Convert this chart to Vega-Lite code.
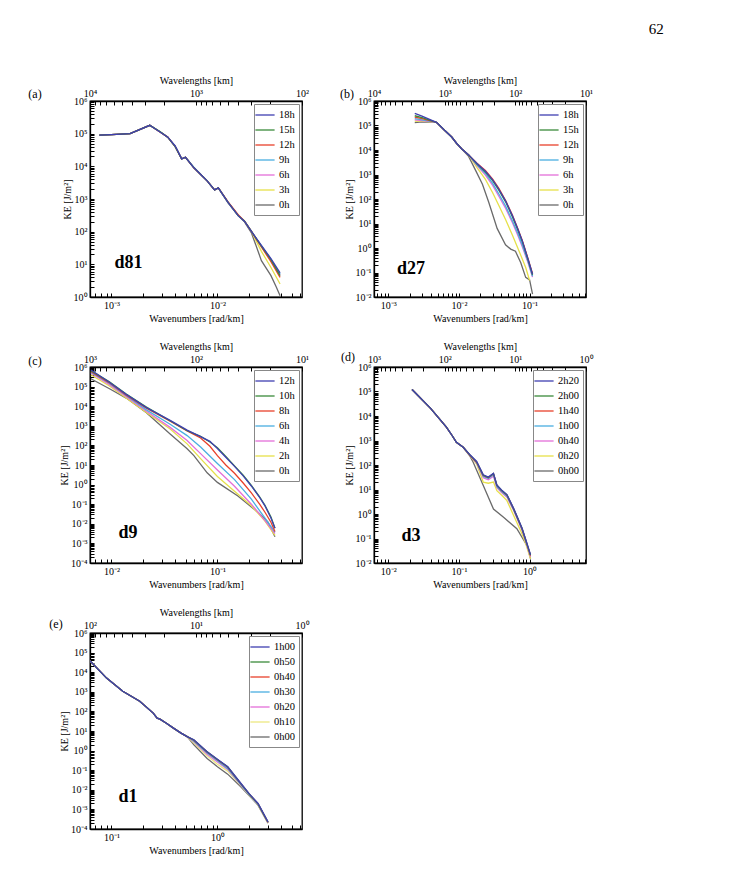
{
"$schema":"https://vega.github.io/schema/vega-lite/v6.json",
"padding":{"left":27,"top":22,"right":5,"bottom":5},
"title":{"text":"62","anchor":"end","font":"Liberation Serif","fontSize":15,"fontWeight":"normal","dx":70,"offset":37},
"config":{
 "font":"Liberation Serif",
 "view":{"stroke":"black","strokeWidth":1.3},
 "axis":{"domainColor":"black","domainWidth":1.3,"tickColor":"black","tickSize":-4,"labelPadding":7,"labelFont":"Liberation Serif","labelFontSize":10,"labelColor":"black","titleFont":"Liberation Serif","titleFontSize":10,"titleFontWeight":"normal","titleColor":"black","grid":false,"labelOverlap":false,"labelFlush":false,"titlePadding":3},
 "axisY":{"titlePadding":1},
 "legend":{"orient":"top-right","offset":3,"strokeColor":"#888","fillColor":"white","padding":4,"labelFont":"Liberation Serif","labelFontSize":10.5,"labelColor":"black","symbolType":"M-1.6,0H1.6","symbolSize":144,"symbolStrokeWidth":1.6,"rowPadding":2,"labelOffset":7},
 "line":{"strokeWidth":1.3}
},
"datasets":{
"one":[{}],
"a":[
{"s":"0h","k":0.00077,"e":90000},{"s":"0h","k":0.001,"e":94000},{"s":"0h","k":0.0015,"e":100000},{"s":"0h","k":0.0023,"e":180000},{"s":"0h","k":0.0029,"e":110000},{"s":"0h","k":0.0034,"e":78000},{"s":"0h","k":0.004,"e":40000},{"s":"0h","k":0.0046,"e":17000},{"s":"0h","k":0.005,"e":19000},{"s":"0h","k":0.006,"e":9000},{"s":"0h","k":0.007,"e":5500},{"s":"0h","k":0.008,"e":3600},{"s":"0h","k":0.0094,"e":1900},{"s":"0h","k":0.0102,"e":2200},{"s":"0h","k":0.0126,"e":760},{"s":"0h","k":0.0157,"e":310},{"s":"0h","k":0.018,"e":200},{"s":"0h","k":0.021,"e":90},{"s":"0h","k":0.026,"e":13},{"s":"0h","k":0.032,"e":4.5},{"s":"0h","k":0.036,"e":2},{"s":"0h","k":0.039,"e":1.1},
{"s":"3h","k":0.00077,"e":90000},{"s":"3h","k":0.001,"e":94000},{"s":"3h","k":0.0015,"e":100000},{"s":"3h","k":0.0023,"e":180000},{"s":"3h","k":0.0029,"e":110000},{"s":"3h","k":0.0034,"e":78000},{"s":"3h","k":0.004,"e":40000},{"s":"3h","k":0.0046,"e":17000},{"s":"3h","k":0.005,"e":19000},{"s":"3h","k":0.006,"e":9000},{"s":"3h","k":0.007,"e":5500},{"s":"3h","k":0.008,"e":3600},{"s":"3h","k":0.0094,"e":1900},{"s":"3h","k":0.0102,"e":2200},{"s":"3h","k":0.0126,"e":800},{"s":"3h","k":0.0157,"e":310},{"s":"3h","k":0.018,"e":215},{"s":"3h","k":0.021,"e":100},{"s":"3h","k":0.026,"e":25},{"s":"3h","k":0.032,"e":8},{"s":"3h","k":0.039,"e":2.5},
{"s":"6h","k":0.00077,"e":90000},{"s":"6h","k":0.001,"e":94000},{"s":"6h","k":0.0015,"e":100000},{"s":"6h","k":0.0023,"e":180000},{"s":"6h","k":0.0029,"e":110000},{"s":"6h","k":0.0034,"e":80000},{"s":"6h","k":0.004,"e":40000},{"s":"6h","k":0.0046,"e":17000},{"s":"6h","k":0.005,"e":19000},{"s":"6h","k":0.006,"e":9000},{"s":"6h","k":0.007,"e":5500},{"s":"6h","k":0.008,"e":3600},{"s":"6h","k":0.0094,"e":1900},{"s":"6h","k":0.0102,"e":2200},{"s":"6h","k":0.0126,"e":790},{"s":"6h","k":0.0157,"e":310},{"s":"6h","k":0.018,"e":210},{"s":"6h","k":0.021,"e":100},{"s":"6h","k":0.026,"e":35},{"s":"6h","k":0.032,"e":13},{"s":"6h","k":0.039,"e":4.6},
{"s":"9h","k":0.00077,"e":90000},{"s":"9h","k":0.001,"e":94000},{"s":"9h","k":0.0015,"e":100000},{"s":"9h","k":0.0023,"e":180000},{"s":"9h","k":0.0029,"e":110000},{"s":"9h","k":0.0034,"e":78000},{"s":"9h","k":0.004,"e":40000},{"s":"9h","k":0.0046,"e":17000},{"s":"9h","k":0.005,"e":19000},{"s":"9h","k":0.006,"e":9400},{"s":"9h","k":0.007,"e":5500},{"s":"9h","k":0.008,"e":3600},{"s":"9h","k":0.0094,"e":1900},{"s":"9h","k":0.0102,"e":2200},{"s":"9h","k":0.0126,"e":790},{"s":"9h","k":0.0157,"e":310},{"s":"9h","k":0.018,"e":210},{"s":"9h","k":0.021,"e":100},{"s":"9h","k":0.026,"e":37},{"s":"9h","k":0.032,"e":14},{"s":"9h","k":0.039,"e":5},
{"s":"12h","k":0.00077,"e":90000},{"s":"12h","k":0.001,"e":94000},{"s":"12h","k":0.0015,"e":100000},{"s":"12h","k":0.0023,"e":180000},{"s":"12h","k":0.0029,"e":110000},{"s":"12h","k":0.0034,"e":78000},{"s":"12h","k":0.004,"e":40000},{"s":"12h","k":0.0046,"e":17000},{"s":"12h","k":0.005,"e":19000},{"s":"12h","k":0.006,"e":9000},{"s":"12h","k":0.007,"e":5500},{"s":"12h","k":0.008,"e":3600},{"s":"12h","k":0.0094,"e":1900},{"s":"12h","k":0.0102,"e":2200},{"s":"12h","k":0.0126,"e":820},{"s":"12h","k":0.0157,"e":330},{"s":"12h","k":0.018,"e":210},{"s":"12h","k":0.021,"e":100},{"s":"12h","k":0.026,"e":34},{"s":"12h","k":0.032,"e":12},{"s":"12h","k":0.039,"e":4},
{"s":"15h","k":0.00077,"e":90000},{"s":"15h","k":0.001,"e":94000},{"s":"15h","k":0.0015,"e":100000},{"s":"15h","k":0.0023,"e":180000},{"s":"15h","k":0.0029,"e":115000},{"s":"15h","k":0.0034,"e":78000},{"s":"15h","k":0.004,"e":40000},{"s":"15h","k":0.0046,"e":17000},{"s":"15h","k":0.005,"e":19000},{"s":"15h","k":0.006,"e":9000},{"s":"15h","k":0.007,"e":5500},{"s":"15h","k":0.008,"e":3600},{"s":"15h","k":0.0094,"e":1900},{"s":"15h","k":0.0102,"e":2200},{"s":"15h","k":0.0126,"e":790},{"s":"15h","k":0.0157,"e":310},{"s":"15h","k":0.018,"e":210},{"s":"15h","k":0.021,"e":100},{"s":"15h","k":0.026,"e":36},{"s":"15h","k":0.032,"e":14},{"s":"15h","k":0.039,"e":4.5},
{"s":"18h","k":0.00077,"e":90000},{"s":"18h","k":0.001,"e":94000},{"s":"18h","k":0.0015,"e":100000},{"s":"18h","k":0.0023,"e":180000},{"s":"18h","k":0.0029,"e":110000},{"s":"18h","k":0.0034,"e":78000},{"s":"18h","k":0.004,"e":42000},{"s":"18h","k":0.0046,"e":17000},{"s":"18h","k":0.005,"e":19000},{"s":"18h","k":0.006,"e":9000},{"s":"18h","k":0.007,"e":5500},{"s":"18h","k":0.008,"e":3600},{"s":"18h","k":0.0094,"e":1900},{"s":"18h","k":0.0102,"e":2200},{"s":"18h","k":0.0126,"e":790},{"s":"18h","k":0.0157,"e":310},{"s":"18h","k":0.018,"e":210},{"s":"18h","k":0.021,"e":100},{"s":"18h","k":0.026,"e":38},{"s":"18h","k":0.032,"e":15},{"s":"18h","k":0.039,"e":5.5}
],
"b":[
{"s":"0h","k":0.00237,"e":130000},{"s":"0h","k":0.003,"e":140000},{"s":"0h","k":0.0048,"e":135000},{"s":"0h","k":0.0062,"e":65000},{"s":"0h","k":0.0079,"e":34000},{"s":"0h","k":0.0093,"e":18500},{"s":"0h","k":0.011,"e":11000},{"s":"0h","k":0.0137,"e":5500},{"s":"0h","k":0.017,"e":1580},{"s":"0h","k":0.0215,"e":400},{"s":"0h","k":0.0264,"e":74},{"s":"0h","k":0.0347,"e":6.3},{"s":"0h","k":0.0456,"e":1.35},{"s":"0h","k":0.054,"e":0.9},{"s":"0h","k":0.063,"e":0.74},{"s":"0h","k":0.075,"e":0.25},{"s":"0h","k":0.088,"e":0.063},{"s":"0h","k":0.1,"e":0.05},{"s":"0h","k":0.11,"e":0.013},
{"s":"3h","k":0.00237,"e":150000},{"s":"3h","k":0.003,"e":150000},{"s":"3h","k":0.0048,"e":135000},{"s":"3h","k":0.0062,"e":65000},{"s":"3h","k":0.0079,"e":34000},{"s":"3h","k":0.0093,"e":18500},{"s":"3h","k":0.011,"e":11000},{"s":"3h","k":0.0137,"e":6300},{"s":"3h","k":0.018,"e":1900},{"s":"3h","k":0.0237,"e":630},{"s":"3h","k":0.03,"e":180},{"s":"3h","k":0.0367,"e":54},{"s":"3h","k":0.046,"e":14},{"s":"3h","k":0.057,"e":3.4},{"s":"3h","k":0.068,"e":1},{"s":"3h","k":0.079,"e":0.35},{"s":"3h","k":0.088,"e":0.16},{"s":"3h","k":0.1,"e":0.047},
{"s":"6h","k":0.00237,"e":170000},{"s":"6h","k":0.003,"e":160000},{"s":"6h","k":0.0048,"e":135000},{"s":"6h","k":0.0062,"e":65000},{"s":"6h","k":0.0079,"e":34000},{"s":"6h","k":0.0093,"e":18500},{"s":"6h","k":0.011,"e":11000},{"s":"6h","k":0.0137,"e":6300},{"s":"6h","k":0.018,"e":2300},{"s":"6h","k":0.0237,"e":950},{"s":"6h","k":0.03,"e":360},{"s":"6h","k":0.0367,"e":130},{"s":"6h","k":0.046,"e":40},{"s":"6h","k":0.057,"e":11},{"s":"6h","k":0.068,"e":3.3},{"s":"6h","k":0.079,"e":1.1},{"s":"6h","k":0.095,"e":0.25},{"s":"6h","k":0.11,"e":0.065},
{"s":"9h","k":0.00237,"e":190000},{"s":"9h","k":0.003,"e":170000},{"s":"9h","k":0.0048,"e":135000},{"s":"9h","k":0.0062,"e":65000},{"s":"9h","k":0.0079,"e":34000},{"s":"9h","k":0.0093,"e":18500},{"s":"9h","k":0.011,"e":11000},{"s":"9h","k":0.0137,"e":6300},{"s":"9h","k":0.018,"e":2500},{"s":"9h","k":0.0237,"e":1100},{"s":"9h","k":0.03,"e":430},{"s":"9h","k":0.0367,"e":160},{"s":"9h","k":0.046,"e":50},{"s":"9h","k":0.057,"e":13},{"s":"9h","k":0.068,"e":4},{"s":"9h","k":0.079,"e":1.3},{"s":"9h","k":0.095,"e":0.28},{"s":"9h","k":0.11,"e":0.07},
{"s":"12h","k":0.00237,"e":220000},{"s":"12h","k":0.003,"e":190000},{"s":"12h","k":0.0048,"e":135000},{"s":"12h","k":0.0062,"e":65000},{"s":"12h","k":0.0079,"e":34000},{"s":"12h","k":0.0093,"e":18500},{"s":"12h","k":0.011,"e":11000},{"s":"12h","k":0.0137,"e":6300},{"s":"12h","k":0.018,"e":2900},{"s":"12h","k":0.0237,"e":1450},{"s":"12h","k":0.03,"e":650},{"s":"12h","k":0.0367,"e":270},{"s":"12h","k":0.046,"e":85},{"s":"12h","k":0.057,"e":22},{"s":"12h","k":0.068,"e":6.3},{"s":"12h","k":0.079,"e":2},{"s":"12h","k":0.095,"e":0.37},{"s":"12h","k":0.11,"e":0.09},
{"s":"15h","k":0.00237,"e":250000},{"s":"15h","k":0.003,"e":210000},{"s":"15h","k":0.0048,"e":135000},{"s":"15h","k":0.0062,"e":65000},{"s":"15h","k":0.0079,"e":34000},{"s":"15h","k":0.0093,"e":18500},{"s":"15h","k":0.011,"e":11000},{"s":"15h","k":0.0137,"e":6300},{"s":"15h","k":0.018,"e":2700},{"s":"15h","k":0.0237,"e":1250},{"s":"15h","k":0.03,"e":560},{"s":"15h","k":0.0367,"e":230},{"s":"15h","k":0.046,"e":75},{"s":"15h","k":0.057,"e":19},{"s":"15h","k":0.068,"e":5.5},{"s":"15h","k":0.079,"e":1.8},{"s":"15h","k":0.095,"e":0.33},{"s":"15h","k":0.11,"e":0.08},
{"s":"18h","k":0.00237,"e":310000},{"s":"18h","k":0.003,"e":240000},{"s":"18h","k":0.0048,"e":135000},{"s":"18h","k":0.0062,"e":65000},{"s":"18h","k":0.0079,"e":34000},{"s":"18h","k":0.0093,"e":18500},{"s":"18h","k":0.011,"e":11000},{"s":"18h","k":0.0137,"e":6300},{"s":"18h","k":0.018,"e":2800},{"s":"18h","k":0.0237,"e":1350},{"s":"18h","k":0.03,"e":600},{"s":"18h","k":0.0367,"e":250},{"s":"18h","k":0.046,"e":80},{"s":"18h","k":0.057,"e":21},{"s":"18h","k":0.068,"e":6},{"s":"18h","k":0.079,"e":1.9},{"s":"18h","k":0.095,"e":0.35},{"s":"18h","k":0.11,"e":0.085}
],
"c":[
{"s":"0h","k":0.0064,"e":250000},{"s":"0h","k":0.0095,"e":80000},{"s":"0h","k":0.0138,"e":26000},{"s":"0h","k":0.0214,"e":4600},{"s":"0h","k":0.0358,"e":380},{"s":"0h","k":0.0518,"e":68},{"s":"0h","k":0.06,"e":30},{"s":"0h","k":0.08,"e":4},{"s":"0h","k":0.1,"e":1.3},{"s":"0h","k":0.156,"e":0.26},{"s":"0h","k":0.242,"e":0.038},{"s":"0h","k":0.3,"e":0.012},{"s":"0h","k":0.349,"e":0.0022},
{"s":"2h","k":0.0064,"e":400000},{"s":"2h","k":0.0095,"e":110000},{"s":"2h","k":0.0138,"e":26000},{"s":"2h","k":0.0214,"e":4800},{"s":"2h","k":0.0358,"e":680},{"s":"2h","k":0.0518,"e":120},{"s":"2h","k":0.0694,"e":21},{"s":"2h","k":0.1,"e":2.6},{"s":"2h","k":0.145,"e":0.46},{"s":"2h","k":0.209,"e":0.083},{"s":"2h","k":0.28,"e":0.014},{"s":"2h","k":0.349,"e":0.0026},
{"s":"4h","k":0.0064,"e":500000},{"s":"4h","k":0.0095,"e":130000},{"s":"4h","k":0.0138,"e":30000},{"s":"4h","k":0.0214,"e":5500},{"s":"4h","k":0.0358,"e":830},{"s":"4h","k":0.0518,"e":178},{"s":"4h","k":0.0694,"e":38},{"s":"4h","k":0.1,"e":5.6},{"s":"4h","k":0.145,"e":0.83},{"s":"4h","k":0.209,"e":0.1},{"s":"4h","k":0.28,"e":0.015},{"s":"4h","k":0.349,"e":0.0032},
{"s":"6h","k":0.0064,"e":550000},{"s":"6h","k":0.0095,"e":150000},{"s":"6h","k":0.0138,"e":34000},{"s":"6h","k":0.0214,"e":6500},{"s":"6h","k":0.0358,"e":1200},{"s":"6h","k":0.0518,"e":316},{"s":"6h","k":0.0694,"e":83},{"s":"6h","k":0.1,"e":12},{"s":"6h","k":0.145,"e":1.8},{"s":"6h","k":0.209,"e":0.18},{"s":"6h","k":0.28,"e":0.02},{"s":"6h","k":0.349,"e":0.0038},
{"s":"8h","k":0.0064,"e":600000},{"s":"8h","k":0.0095,"e":160000},{"s":"8h","k":0.0138,"e":36000},{"s":"8h","k":0.0214,"e":8000},{"s":"8h","k":0.0358,"e":1700},{"s":"8h","k":0.0518,"e":550},{"s":"8h","k":0.0694,"e":240},{"s":"8h","k":0.085,"e":90},{"s":"8h","k":0.1,"e":30},{"s":"8h","k":0.12,"e":10},{"s":"8h","k":0.145,"e":3.8},{"s":"8h","k":0.175,"e":1.2},{"s":"8h","k":0.209,"e":0.38},{"s":"8h","k":0.25,"e":0.1},{"s":"8h","k":0.28,"e":0.04},{"s":"8h","k":0.32,"e":0.012},{"s":"8h","k":0.349,"e":0.004},
{"s":"10h","k":0.0064,"e":650000},{"s":"10h","k":0.0095,"e":180000},{"s":"10h","k":0.0138,"e":42000},{"s":"10h","k":0.0214,"e":9000},{"s":"10h","k":0.0358,"e":1800},{"s":"10h","k":0.0518,"e":560},{"s":"10h","k":0.0694,"e":290},{"s":"10h","k":0.085,"e":150},{"s":"10h","k":0.1,"e":75},{"s":"10h","k":0.12,"e":27},{"s":"10h","k":0.145,"e":9},{"s":"10h","k":0.175,"e":3},{"s":"10h","k":0.209,"e":0.9},{"s":"10h","k":0.25,"e":0.24},{"s":"10h","k":0.28,"e":0.09},{"s":"10h","k":0.32,"e":0.022},{"s":"10h","k":0.349,"e":0.006},
{"s":"12h","k":0.0064,"e":700000},{"s":"12h","k":0.0095,"e":170000},{"s":"12h","k":0.0138,"e":40000},{"s":"12h","k":0.0214,"e":8500},{"s":"12h","k":0.0358,"e":1900},{"s":"12h","k":0.0518,"e":600},{"s":"12h","k":0.0694,"e":280},{"s":"12h","k":0.085,"e":160},{"s":"12h","k":0.1,"e":70},{"s":"12h","k":0.12,"e":25},{"s":"12h","k":0.145,"e":8.5},{"s":"12h","k":0.175,"e":2.8},{"s":"12h","k":0.209,"e":0.85},{"s":"12h","k":0.25,"e":0.22},{"s":"12h","k":0.28,"e":0.085},{"s":"12h","k":0.32,"e":0.02},{"s":"12h","k":0.349,"e":0.006}
],
"d":[
{"s":"0h00","k":0.0217,"e":120000},{"s":"0h00","k":0.04,"e":20000},{"s":"0h00","k":0.0664,"e":3500},{"s":"0h00","k":0.08,"e":1600},{"s":"0h00","k":0.092,"e":850},{"s":"0h00","k":0.115,"e":530},{"s":"0h00","k":0.143,"e":230},{"s":"0h00","k":0.159,"e":130},{"s":"0h00","k":0.221,"e":14.5},{"s":"0h00","k":0.308,"e":1.6},{"s":"0h00","k":0.428,"e":0.74},{"s":"0h00","k":0.66,"e":0.25},{"s":"0h00","k":0.92,"e":0.051},{"s":"0h00","k":1.03,"e":0.015},
{"s":"0h20","k":0.0217,"e":120000},{"s":"0h20","k":0.04,"e":20000},{"s":"0h20","k":0.0664,"e":3500},{"s":"0h20","k":0.08,"e":1600},{"s":"0h20","k":0.092,"e":850},{"s":"0h20","k":0.115,"e":530},{"s":"0h20","k":0.143,"e":245},{"s":"0h20","k":0.178,"e":110},{"s":"0h20","k":0.221,"e":20},{"s":"0h20","k":0.26,"e":18},{"s":"0h20","k":0.308,"e":20},{"s":"0h20","k":0.344,"e":9},{"s":"0h20","k":0.4,"e":6},{"s":"0h20","k":0.478,"e":3.5},{"s":"0h20","k":0.594,"e":0.87},{"s":"0h20","k":0.78,"e":0.155},{"s":"0h20","k":0.9,"e":0.05},{"s":"0h20","k":1.03,"e":0.015},
{"s":"0h40","k":0.0217,"e":120000},{"s":"0h40","k":0.04,"e":20000},{"s":"0h40","k":0.0664,"e":3500},{"s":"0h40","k":0.08,"e":1600},{"s":"0h40","k":0.092,"e":850},{"s":"0h40","k":0.115,"e":530},{"s":"0h40","k":0.143,"e":245},{"s":"0h40","k":0.178,"e":120},{"s":"0h40","k":0.221,"e":30},{"s":"0h40","k":0.26,"e":25},{"s":"0h40","k":0.308,"e":35},{"s":"0h40","k":0.344,"e":12},{"s":"0h40","k":0.4,"e":7.5},{"s":"0h40","k":0.478,"e":4.8},{"s":"0h40","k":0.594,"e":1.4},{"s":"0h40","k":0.78,"e":0.22},{"s":"0h40","k":0.9,"e":0.06},{"s":"0h40","k":1.03,"e":0.018},
{"s":"1h00","k":0.0217,"e":120000},{"s":"1h00","k":0.04,"e":20000},{"s":"1h00","k":0.0664,"e":3500},{"s":"1h00","k":0.08,"e":1600},{"s":"1h00","k":0.092,"e":850},{"s":"1h00","k":0.115,"e":530},{"s":"1h00","k":0.143,"e":250},{"s":"1h00","k":0.178,"e":125},{"s":"1h00","k":0.221,"e":34},{"s":"1h00","k":0.26,"e":28},{"s":"1h00","k":0.308,"e":40},{"s":"1h00","k":0.344,"e":13},{"s":"1h00","k":0.4,"e":8.3},{"s":"1h00","k":0.478,"e":5.3},{"s":"1h00","k":0.594,"e":1.5},{"s":"1h00","k":0.78,"e":0.24},{"s":"1h00","k":0.9,"e":0.065},{"s":"1h00","k":1.03,"e":0.02},
{"s":"1h40","k":0.0217,"e":120000},{"s":"1h40","k":0.04,"e":20000},{"s":"1h40","k":0.0664,"e":3500},{"s":"1h40","k":0.08,"e":1600},{"s":"1h40","k":0.092,"e":850},{"s":"1h40","k":0.115,"e":530},{"s":"1h40","k":0.143,"e":250},{"s":"1h40","k":0.178,"e":130},{"s":"1h40","k":0.221,"e":37},{"s":"1h40","k":0.26,"e":30},{"s":"1h40","k":0.308,"e":44},{"s":"1h40","k":0.344,"e":14.5},{"s":"1h40","k":0.4,"e":9},{"s":"1h40","k":0.478,"e":5.8},{"s":"1h40","k":0.594,"e":1.6},{"s":"1h40","k":0.78,"e":0.25},{"s":"1h40","k":0.9,"e":0.07},{"s":"1h40","k":1.03,"e":0.02},
{"s":"2h00","k":0.0217,"e":120000},{"s":"2h00","k":0.04,"e":20000},{"s":"2h00","k":0.0664,"e":3500},{"s":"2h00","k":0.08,"e":1600},{"s":"2h00","k":0.092,"e":850},{"s":"2h00","k":0.115,"e":530},{"s":"2h00","k":0.143,"e":255},{"s":"2h00","k":0.178,"e":135},{"s":"2h00","k":0.221,"e":38},{"s":"2h00","k":0.26,"e":31},{"s":"2h00","k":0.308,"e":45},{"s":"2h00","k":0.344,"e":15},{"s":"2h00","k":0.4,"e":9.3},{"s":"2h00","k":0.478,"e":6},{"s":"2h00","k":0.594,"e":1.65},{"s":"2h00","k":0.78,"e":0.26},{"s":"2h00","k":0.9,"e":0.07},{"s":"2h00","k":1.03,"e":0.021},
{"s":"2h20","k":0.0217,"e":120000},{"s":"2h20","k":0.04,"e":20000},{"s":"2h20","k":0.0664,"e":3500},{"s":"2h20","k":0.08,"e":1600},{"s":"2h20","k":0.092,"e":850},{"s":"2h20","k":0.115,"e":530},{"s":"2h20","k":0.143,"e":260},{"s":"2h20","k":0.178,"e":140},{"s":"2h20","k":0.221,"e":40},{"s":"2h20","k":0.26,"e":32},{"s":"2h20","k":0.308,"e":46},{"s":"2h20","k":0.344,"e":15.5},{"s":"2h20","k":0.4,"e":9.6},{"s":"2h20","k":0.478,"e":6.2},{"s":"2h20","k":0.594,"e":1.7},{"s":"2h20","k":0.78,"e":0.27},{"s":"2h20","k":0.9,"e":0.075},{"s":"2h20","k":1.03,"e":0.022}
],
"e":[
{"s":"0h00","k":0.063,"e":38000},{"s":"0h00","k":0.09,"e":5000},{"s":"0h00","k":0.128,"e":1070},{"s":"0h00","k":0.185,"e":330},{"s":"0h00","k":0.248,"e":82},{"s":"0h00","k":0.27,"e":45},{"s":"0h00","k":0.287,"e":40},{"s":"0h00","k":0.33,"e":25},{"s":"0h00","k":0.385,"e":14},{"s":"0h00","k":0.45,"e":8},{"s":"0h00","k":0.518,"e":5.2},{"s":"0h00","k":0.6,"e":2},{"s":"0h00","k":0.8,"e":0.4},{"s":"0h00","k":1,"e":0.15},{"s":"0h00","k":1.25,"e":0.063},{"s":"0h00","k":1.67,"e":0.014},{"s":"0h00","k":2,"e":0.005},{"s":"0h00","k":2.42,"e":0.0016},{"s":"0h00","k":3,"e":0.0002},
{"s":"0h10","k":0.063,"e":38000},{"s":"0h10","k":0.09,"e":5000},{"s":"0h10","k":0.128,"e":1070},{"s":"0h10","k":0.185,"e":330},{"s":"0h10","k":0.248,"e":82},{"s":"0h10","k":0.27,"e":45},{"s":"0h10","k":0.287,"e":40},{"s":"0h10","k":0.33,"e":25},{"s":"0h10","k":0.385,"e":14},{"s":"0h10","k":0.45,"e":8},{"s":"0h10","k":0.518,"e":5.2},{"s":"0h10","k":0.6,"e":2.4},{"s":"0h10","k":0.8,"e":0.55},{"s":"0h10","k":1,"e":0.2},{"s":"0h10","k":1.25,"e":0.09},{"s":"0h10","k":1.67,"e":0.016},{"s":"0h10","k":2,"e":0.0052},{"s":"0h10","k":2.42,"e":0.0017},{"s":"0h10","k":3,"e":0.0002},
{"s":"0h20","k":0.063,"e":38000},{"s":"0h20","k":0.09,"e":5000},{"s":"0h20","k":0.128,"e":1070},{"s":"0h20","k":0.185,"e":330},{"s":"0h20","k":0.248,"e":82},{"s":"0h20","k":0.27,"e":45},{"s":"0h20","k":0.287,"e":40},{"s":"0h20","k":0.33,"e":25},{"s":"0h20","k":0.385,"e":14},{"s":"0h20","k":0.45,"e":8},{"s":"0h20","k":0.518,"e":5.2},{"s":"0h20","k":0.6,"e":2.8},{"s":"0h20","k":0.8,"e":0.65},{"s":"0h20","k":1,"e":0.26},{"s":"0h20","k":1.25,"e":0.11},{"s":"0h20","k":1.67,"e":0.017},{"s":"0h20","k":2,"e":0.0055},{"s":"0h20","k":2.42,"e":0.0018},{"s":"0h20","k":3,"e":0.00021},
{"s":"0h30","k":0.063,"e":38000},{"s":"0h30","k":0.09,"e":5000},{"s":"0h30","k":0.128,"e":1070},{"s":"0h30","k":0.185,"e":330},{"s":"0h30","k":0.248,"e":82},{"s":"0h30","k":0.27,"e":45},{"s":"0h30","k":0.287,"e":40},{"s":"0h30","k":0.33,"e":25},{"s":"0h30","k":0.385,"e":14},{"s":"0h30","k":0.45,"e":8},{"s":"0h30","k":0.518,"e":5.2},{"s":"0h30","k":0.6,"e":3},{"s":"0h30","k":0.8,"e":0.75},{"s":"0h30","k":1,"e":0.3},{"s":"0h30","k":1.25,"e":0.12},{"s":"0h30","k":1.67,"e":0.018},{"s":"0h30","k":2,"e":0.0056},{"s":"0h30","k":2.42,"e":0.0018},{"s":"0h30","k":3,"e":0.00022},
{"s":"0h40","k":0.063,"e":38000},{"s":"0h40","k":0.09,"e":5000},{"s":"0h40","k":0.128,"e":1070},{"s":"0h40","k":0.185,"e":330},{"s":"0h40","k":0.248,"e":82},{"s":"0h40","k":0.27,"e":45},{"s":"0h40","k":0.287,"e":40},{"s":"0h40","k":0.33,"e":25},{"s":"0h40","k":0.385,"e":14},{"s":"0h40","k":0.45,"e":8},{"s":"0h40","k":0.518,"e":5.2},{"s":"0h40","k":0.6,"e":3.4},{"s":"0h40","k":0.8,"e":0.85},{"s":"0h40","k":1,"e":0.34},{"s":"0h40","k":1.25,"e":0.14},{"s":"0h40","k":1.67,"e":0.02},{"s":"0h40","k":2,"e":0.006},{"s":"0h40","k":2.42,"e":0.0019},{"s":"0h40","k":3,"e":0.00022},
{"s":"0h50","k":0.063,"e":38000},{"s":"0h50","k":0.09,"e":5000},{"s":"0h50","k":0.128,"e":1070},{"s":"0h50","k":0.185,"e":330},{"s":"0h50","k":0.248,"e":82},{"s":"0h50","k":0.27,"e":45},{"s":"0h50","k":0.287,"e":40},{"s":"0h50","k":0.33,"e":25},{"s":"0h50","k":0.385,"e":14},{"s":"0h50","k":0.45,"e":8},{"s":"0h50","k":0.518,"e":5.2},{"s":"0h50","k":0.6,"e":3.5},{"s":"0h50","k":0.8,"e":0.86},{"s":"0h50","k":1,"e":0.35},{"s":"0h50","k":1.25,"e":0.15},{"s":"0h50","k":1.67,"e":0.02},{"s":"0h50","k":2,"e":0.006},{"s":"0h50","k":2.42,"e":0.0019},{"s":"0h50","k":3,"e":0.00022},
{"s":"1h00","k":0.063,"e":38000},{"s":"1h00","k":0.09,"e":5000},{"s":"1h00","k":0.128,"e":1070},{"s":"1h00","k":0.185,"e":330},{"s":"1h00","k":0.248,"e":82},{"s":"1h00","k":0.27,"e":45},{"s":"1h00","k":0.287,"e":40},{"s":"1h00","k":0.33,"e":25},{"s":"1h00","k":0.385,"e":14},{"s":"1h00","k":0.45,"e":8},{"s":"1h00","k":0.518,"e":5.2},{"s":"1h00","k":0.6,"e":3.6},{"s":"1h00","k":0.8,"e":0.87},{"s":"1h00","k":1,"e":0.36},{"s":"1h00","k":1.25,"e":0.15},{"s":"1h00","k":1.67,"e":0.021},{"s":"1h00","k":2,"e":0.0062},{"s":"1h00","k":2.42,"e":0.002},{"s":"1h00","k":3,"e":0.00023}
]
},
"columns":2,
"spacing":{"row":70,"column":72},
"bounds":"flush",
"resolve":{"scale":{"color":"independent"},"legend":{"color":"independent"}},
"concat":[
 {"width":212,"height":196,
  "layer":[
   {"layer":[
     {"data":{"name":"a"},"mark":{"type":"line","clip":true},
      "encoding":{
       "x":{"field":"k","type":"quantitative","scale":{"type":"log","domain":[0.000628,0.0628],"nice":false},"axis":{"orient":"bottom","title":"Wavenumbers [rad/km]","values":[0.0007,0.0008,0.0009,0.001,0.002,0.003,0.004,0.005,0.006,0.007,0.008,0.009,0.01,0.02,0.03,0.04,0.05,0.06],"labelExpr":"abs(log(datum.value)/LN10-round(log(datum.value)/LN10))<0.001 ? '10'+replace(replace(replace(replace(replace(replace(replace(replace(replace(replace(replace(''+round(log(datum.value)/LN10),'-','⁻'),'0','⁰'),'1','¹'),'2','²'),'3','³'),'4','⁴'),'5','⁵'),'6','⁶'),'7','⁷'),'8','⁸'),'9','⁹') : ''"}},
       "y":{"field":"e","type":"quantitative","scale":{"type":"log","domain":[1,1000000],"nice":false},"axis":{"title":"KE [J/m²]","values":[1,2,3,4,5,6,7,8,9,10,20,30,40,50,60,70,80,90,100,200,300,400,500,600,700,800,900,1000,2000,3000,4000,5000,6000,7000,8000,9000,10000,20000,30000,40000,50000,60000,70000,80000,90000,100000,200000,300000,400000,500000,600000,700000,800000,900000,1000000],"labelExpr":"abs(log(datum.value)/LN10-round(log(datum.value)/LN10))<0.001 ? '10'+replace(replace(replace(replace(replace(replace(replace(replace(replace(replace(replace(''+round(log(datum.value)/LN10),'-','⁻'),'0','⁰'),'1','¹'),'2','²'),'3','³'),'4','⁴'),'5','⁵'),'6','⁶'),'7','⁷'),'8','⁸'),'9','⁹') : ''"}},
       "color":{"field":"s","type":"nominal","scale":{"domain":["18h","15h","12h","9h","6h","3h","0h"],"range":["#3f3fb0","#3a8a3a","#e8402a","#4aaee0","#e46fd8","#e6e04a","#6a6a6a"]},"legend":{"title":null}}
      }},
     {"data":{"name":"one"},"mark":{"type":"text","fontSize":18,"fontWeight":"bold","font":"Liberation Serif"},"encoding":{"x":{"datum":0.00145},"y":{"datum":11},"text":{"value":"d81"}}},
     {"data":{"name":"one"},"mark":{"type":"text","fontSize":12,"font":"Liberation Serif"},"encoding":{"x":{"datum":0.00019},"y":{"datum":1600000},"text":{"value":"(a)"}}}
   ]},
   {"data":{"name":"one"},"mark":{"type":"point","opacity":0},
    "encoding":{"x":{"datum":1000,"type":"quantitative","scale":{"type":"log","domain":[100,10000],"reverse":true,"nice":false},"axis":{"orient":"top","title":"Wavelengths [km]","values":[100,200,300,400,500,600,700,800,900,1000,2000,3000,4000,5000,6000,7000,8000,9000,10000],"labelExpr":"abs(log(datum.value)/LN10-round(log(datum.value)/LN10))<0.001 ? '10'+replace(replace(replace(replace(replace(replace(replace(replace(replace(replace(replace(''+round(log(datum.value)/LN10),'-','⁻'),'0','⁰'),'1','¹'),'2','²'),'3','³'),'4','⁴'),'5','⁵'),'6','⁶'),'7','⁷'),'8','⁸'),'9','⁹') : ''"}}}}
  ],
  "resolve":{"scale":{"x":"independent"},"axis":{"x":"independent"}}
 },
 {"width":212,"height":196,
  "layer":[
   {"layer":[
     {"data":{"name":"b"},"mark":{"type":"line","clip":true},
      "encoding":{
       "x":{"field":"k","type":"quantitative","scale":{"type":"log","domain":[0.000628,0.628],"nice":false},"axis":{"orient":"bottom","title":"Wavenumbers [rad/km]","values":[0.0007,0.0008,0.0009,0.001,0.002,0.003,0.004,0.005,0.006,0.007,0.008,0.009,0.01,0.02,0.03,0.04,0.05,0.06,0.07,0.08,0.09,0.1,0.2,0.3,0.4,0.5,0.6],"labelExpr":"abs(log(datum.value)/LN10-round(log(datum.value)/LN10))<0.001 ? '10'+replace(replace(replace(replace(replace(replace(replace(replace(replace(replace(replace(''+round(log(datum.value)/LN10),'-','⁻'),'0','⁰'),'1','¹'),'2','²'),'3','³'),'4','⁴'),'5','⁵'),'6','⁶'),'7','⁷'),'8','⁸'),'9','⁹') : ''"}},
       "y":{"field":"e","type":"quantitative","scale":{"type":"log","domain":[0.01,1000000],"nice":false},"axis":{"title":"KE [J/m²]","values":[0.01,0.02,0.03,0.04,0.05,0.06,0.07,0.08,0.09,0.1,0.2,0.3,0.4,0.5,0.6,0.7,0.8,0.9,1,2,3,4,5,6,7,8,9,10,20,30,40,50,60,70,80,90,100,200,300,400,500,600,700,800,900,1000,2000,3000,4000,5000,6000,7000,8000,9000,10000,20000,30000,40000,50000,60000,70000,80000,90000,100000,200000,300000,400000,500000,600000,700000,800000,900000,1000000],"labelExpr":"abs(log(datum.value)/LN10-round(log(datum.value)/LN10))<0.001 ? '10'+replace(replace(replace(replace(replace(replace(replace(replace(replace(replace(replace(''+round(log(datum.value)/LN10),'-','⁻'),'0','⁰'),'1','¹'),'2','²'),'3','³'),'4','⁴'),'5','⁵'),'6','⁶'),'7','⁷'),'8','⁸'),'9','⁹') : ''"}},
       "color":{"field":"s","type":"nominal","scale":{"domain":["18h","15h","12h","9h","6h","3h","0h"],"range":["#3f3fb0","#3a8a3a","#e8402a","#4aaee0","#e46fd8","#e6e04a","#6a6a6a"]},"legend":{"title":null}}
      }},
     {"data":{"name":"one"},"mark":{"type":"text","fontSize":18,"fontWeight":"bold","font":"Liberation Serif"},"encoding":{"x":{"datum":0.0021},"y":{"datum":0.135},"text":{"value":"d27"}}},
     {"data":{"name":"one"},"mark":{"type":"text","fontSize":12,"font":"Liberation Serif"},"encoding":{"x":{"datum":0.00026},"y":{"datum":1900000},"text":{"value":"(b)"}}}
   ]},
   {"data":{"name":"one"},"mark":{"type":"point","opacity":0},
    "encoding":{"x":{"datum":1000,"type":"quantitative","scale":{"type":"log","domain":[10,10000],"reverse":true,"nice":false},"axis":{"orient":"top","title":"Wavelengths [km]","values":[10,20,30,40,50,60,70,80,90,100,200,300,400,500,600,700,800,900,1000,2000,3000,4000,5000,6000,7000,8000,9000,10000],"labelExpr":"abs(log(datum.value)/LN10-round(log(datum.value)/LN10))<0.001 ? '10'+replace(replace(replace(replace(replace(replace(replace(replace(replace(replace(replace(''+round(log(datum.value)/LN10),'-','⁻'),'0','⁰'),'1','¹'),'2','²'),'3','³'),'4','⁴'),'5','⁵'),'6','⁶'),'7','⁷'),'8','⁸'),'9','⁹') : ''"}}}}
  ],
  "resolve":{"scale":{"x":"independent"},"axis":{"x":"independent"}}
 },
 {"width":212,"height":196,
  "layer":[
   {"layer":[
     {"data":{"name":"c"},"mark":{"type":"line","clip":true},
      "encoding":{
       "x":{"field":"k","type":"quantitative","scale":{"type":"log","domain":[0.00628,0.628],"nice":false},"axis":{"orient":"bottom","title":"Wavenumbers [rad/km]","values":[0.007,0.008,0.009,0.01,0.02,0.03,0.04,0.05,0.06,0.07,0.08,0.09,0.1,0.2,0.3,0.4,0.5,0.6],"labelExpr":"abs(log(datum.value)/LN10-round(log(datum.value)/LN10))<0.001 ? '10'+replace(replace(replace(replace(replace(replace(replace(replace(replace(replace(replace(''+round(log(datum.value)/LN10),'-','⁻'),'0','⁰'),'1','¹'),'2','²'),'3','³'),'4','⁴'),'5','⁵'),'6','⁶'),'7','⁷'),'8','⁸'),'9','⁹') : ''"}},
       "y":{"field":"e","type":"quantitative","scale":{"type":"log","domain":[0.0001,1000000],"nice":false},"axis":{"title":"KE [J/m²]","values":[0.0001,0.0002,0.0003,0.0004,0.0005,0.0006,0.0007,0.0008,0.0009,0.001,0.002,0.003,0.004,0.005,0.006,0.007,0.008,0.009,0.01,0.02,0.03,0.04,0.05,0.06,0.07,0.08,0.09,0.1,0.2,0.3,0.4,0.5,0.6,0.7,0.8,0.9,1,2,3,4,5,6,7,8,9,10,20,30,40,50,60,70,80,90,100,200,300,400,500,600,700,800,900,1000,2000,3000,4000,5000,6000,7000,8000,9000,10000,20000,30000,40000,50000,60000,70000,80000,90000,100000,200000,300000,400000,500000,600000,700000,800000,900000,1000000],"labelExpr":"abs(log(datum.value)/LN10-round(log(datum.value)/LN10))<0.001 ? '10'+replace(replace(replace(replace(replace(replace(replace(replace(replace(replace(replace(''+round(log(datum.value)/LN10),'-','⁻'),'0','⁰'),'1','¹'),'2','²'),'3','³'),'4','⁴'),'5','⁵'),'6','⁶'),'7','⁷'),'8','⁸'),'9','⁹') : ''"}},
       "color":{"field":"s","type":"nominal","scale":{"domain":["12h","10h","8h","6h","4h","2h","0h"],"range":["#3f3fb0","#3a8a3a","#e8402a","#4aaee0","#e46fd8","#e6e04a","#6a6a6a"]},"legend":{"title":null}}
      }},
     {"data":{"name":"one"},"mark":{"type":"text","fontSize":18,"fontWeight":"bold","font":"Liberation Serif"},"encoding":{"x":{"datum":0.0143},"y":{"datum":0.0032},"text":{"value":"d9"}}},
     {"data":{"name":"one"},"mark":{"type":"text","fontSize":12,"font":"Liberation Serif"},"encoding":{"x":{"datum":0.0019},"y":{"datum":2000000},"text":{"value":"(c)"}}}
   ]},
   {"data":{"name":"one"},"mark":{"type":"point","opacity":0},
    "encoding":{"x":{"datum":100,"type":"quantitative","scale":{"type":"log","domain":[10,1000],"reverse":true,"nice":false},"axis":{"orient":"top","title":"Wavelengths [km]","values":[10,20,30,40,50,60,70,80,90,100,200,300,400,500,600,700,800,900,1000],"labelExpr":"abs(log(datum.value)/LN10-round(log(datum.value)/LN10))<0.001 ? '10'+replace(replace(replace(replace(replace(replace(replace(replace(replace(replace(replace(''+round(log(datum.value)/LN10),'-','⁻'),'0','⁰'),'1','¹'),'2','²'),'3','³'),'4','⁴'),'5','⁵'),'6','⁶'),'7','⁷'),'8','⁸'),'9','⁹') : ''"}}}}
  ],
  "resolve":{"scale":{"x":"independent"},"axis":{"x":"independent"}}
 },
 {"width":212,"height":196,
  "layer":[
   {"layer":[
     {"data":{"name":"d"},"mark":{"type":"line","clip":true},
      "encoding":{
       "x":{"field":"k","type":"quantitative","scale":{"type":"log","domain":[0.00628,6.28],"nice":false},"axis":{"orient":"bottom","title":"Wavenumbers [rad/km]","values":[0.007,0.008,0.009,0.01,0.02,0.03,0.04,0.05,0.06,0.07,0.08,0.09,0.1,0.2,0.3,0.4,0.5,0.6,0.7,0.8,0.9,1,2,3,4,5,6],"labelExpr":"abs(log(datum.value)/LN10-round(log(datum.value)/LN10))<0.001 ? '10'+replace(replace(replace(replace(replace(replace(replace(replace(replace(replace(replace(''+round(log(datum.value)/LN10),'-','⁻'),'0','⁰'),'1','¹'),'2','²'),'3','³'),'4','⁴'),'5','⁵'),'6','⁶'),'7','⁷'),'8','⁸'),'9','⁹') : ''"}},
       "y":{"field":"e","type":"quantitative","scale":{"type":"log","domain":[0.01,1000000],"nice":false},"axis":{"title":"KE [J/m²]","values":[0.01,0.02,0.03,0.04,0.05,0.06,0.07,0.08,0.09,0.1,0.2,0.3,0.4,0.5,0.6,0.7,0.8,0.9,1,2,3,4,5,6,7,8,9,10,20,30,40,50,60,70,80,90,100,200,300,400,500,600,700,800,900,1000,2000,3000,4000,5000,6000,7000,8000,9000,10000,20000,30000,40000,50000,60000,70000,80000,90000,100000,200000,300000,400000,500000,600000,700000,800000,900000,1000000],"labelExpr":"abs(log(datum.value)/LN10-round(log(datum.value)/LN10))<0.001 ? '10'+replace(replace(replace(replace(replace(replace(replace(replace(replace(replace(replace(''+round(log(datum.value)/LN10),'-','⁻'),'0','⁰'),'1','¹'),'2','²'),'3','³'),'4','⁴'),'5','⁵'),'6','⁶'),'7','⁷'),'8','⁸'),'9','⁹') : ''"}},
       "color":{"field":"s","type":"nominal","scale":{"domain":["2h20","2h00","1h40","1h00","0h40","0h20","0h00"],"range":["#3f3fb0","#3a8a3a","#e8402a","#4aaee0","#e46fd8","#e6e04a","#6a6a6a"]},"legend":{"title":null}}
      }},
     {"data":{"name":"one"},"mark":{"type":"text","fontSize":18,"fontWeight":"bold","font":"Liberation Serif"},"encoding":{"x":{"datum":0.021},"y":{"datum":0.13},"text":{"value":"d3"}}},
     {"data":{"name":"one"},"mark":{"type":"text","fontSize":12,"font":"Liberation Serif"},"encoding":{"x":{"datum":0.0027},"y":{"datum":2600000},"text":{"value":"(d)"}}}
   ]},
   {"data":{"name":"one"},"mark":{"type":"point","opacity":0},
    "encoding":{"x":{"datum":100,"type":"quantitative","scale":{"type":"log","domain":[1,1000],"reverse":true,"nice":false},"axis":{"orient":"top","title":"Wavelengths [km]","values":[1,2,3,4,5,6,7,8,9,10,20,30,40,50,60,70,80,90,100,200,300,400,500,600,700,800,900,1000],"labelExpr":"abs(log(datum.value)/LN10-round(log(datum.value)/LN10))<0.001 ? '10'+replace(replace(replace(replace(replace(replace(replace(replace(replace(replace(replace(''+round(log(datum.value)/LN10),'-','⁻'),'0','⁰'),'1','¹'),'2','²'),'3','³'),'4','⁴'),'5','⁵'),'6','⁶'),'7','⁷'),'8','⁸'),'9','⁹') : ''"}}}}
  ],
  "resolve":{"scale":{"x":"independent"},"axis":{"x":"independent"}}
 },
 {"width":212,"height":196,
  "layer":[
   {"layer":[
     {"data":{"name":"e"},"mark":{"type":"line","clip":true},
      "encoding":{
       "x":{"field":"k","type":"quantitative","scale":{"type":"log","domain":[0.0628,6.28],"nice":false},"axis":{"orient":"bottom","title":"Wavenumbers [rad/km]","values":[0.07,0.08,0.09,0.1,0.2,0.3,0.4,0.5,0.6,0.7,0.8,0.9,1,2,3,4,5,6],"labelExpr":"abs(log(datum.value)/LN10-round(log(datum.value)/LN10))<0.001 ? '10'+replace(replace(replace(replace(replace(replace(replace(replace(replace(replace(replace(''+round(log(datum.value)/LN10),'-','⁻'),'0','⁰'),'1','¹'),'2','²'),'3','³'),'4','⁴'),'5','⁵'),'6','⁶'),'7','⁷'),'8','⁸'),'9','⁹') : ''"}},
       "y":{"field":"e","type":"quantitative","scale":{"type":"log","domain":[0.0001,1000000],"nice":false},"axis":{"title":"KE [J/m²]","values":[0.0001,0.0002,0.0003,0.0004,0.0005,0.0006,0.0007,0.0008,0.0009,0.001,0.002,0.003,0.004,0.005,0.006,0.007,0.008,0.009,0.01,0.02,0.03,0.04,0.05,0.06,0.07,0.08,0.09,0.1,0.2,0.3,0.4,0.5,0.6,0.7,0.8,0.9,1,2,3,4,5,6,7,8,9,10,20,30,40,50,60,70,80,90,100,200,300,400,500,600,700,800,900,1000,2000,3000,4000,5000,6000,7000,8000,9000,10000,20000,30000,40000,50000,60000,70000,80000,90000,100000,200000,300000,400000,500000,600000,700000,800000,900000,1000000],"labelExpr":"abs(log(datum.value)/LN10-round(log(datum.value)/LN10))<0.001 ? '10'+replace(replace(replace(replace(replace(replace(replace(replace(replace(replace(replace(''+round(log(datum.value)/LN10),'-','⁻'),'0','⁰'),'1','¹'),'2','²'),'3','³'),'4','⁴'),'5','⁵'),'6','⁶'),'7','⁷'),'8','⁸'),'9','⁹') : ''"}},
       "color":{"field":"s","type":"nominal","scale":{"domain":["1h00","0h50","0h40","0h30","0h20","0h10","0h00"],"range":["#3f3fb0","#3a8a3a","#e8402a","#4aaee0","#e46fd8","#ece880","#6a6a6a"]},"legend":{"title":null}}
      }},
     {"data":{"name":"one"},"mark":{"type":"text","fontSize":18,"fontWeight":"bold","font":"Liberation Serif"},"encoding":{"x":{"datum":0.143},"y":{"datum":0.0043},"text":{"value":"d1"}}},
     {"data":{"name":"one"},"mark":{"type":"text","fontSize":12,"font":"Liberation Serif"},"encoding":{"x":{"datum":0.03},"y":{"datum":2900000},"text":{"value":"(e)"}}}
   ]},
   {"data":{"name":"one"},"mark":{"type":"point","opacity":0},
    "encoding":{"x":{"datum":10,"type":"quantitative","scale":{"type":"log","domain":[1,100],"reverse":true,"nice":false},"axis":{"orient":"top","title":"Wavelengths [km]","values":[1,2,3,4,5,6,7,8,9,10,20,30,40,50,60,70,80,90,100],"labelExpr":"abs(log(datum.value)/LN10-round(log(datum.value)/LN10))<0.001 ? '10'+replace(replace(replace(replace(replace(replace(replace(replace(replace(replace(replace(''+round(log(datum.value)/LN10),'-','⁻'),'0','⁰'),'1','¹'),'2','²'),'3','³'),'4','⁴'),'5','⁵'),'6','⁶'),'7','⁷'),'8','⁸'),'9','⁹') : ''"}}}}
  ],
  "resolve":{"scale":{"x":"independent"},"axis":{"x":"independent"}}
 }
]
}
